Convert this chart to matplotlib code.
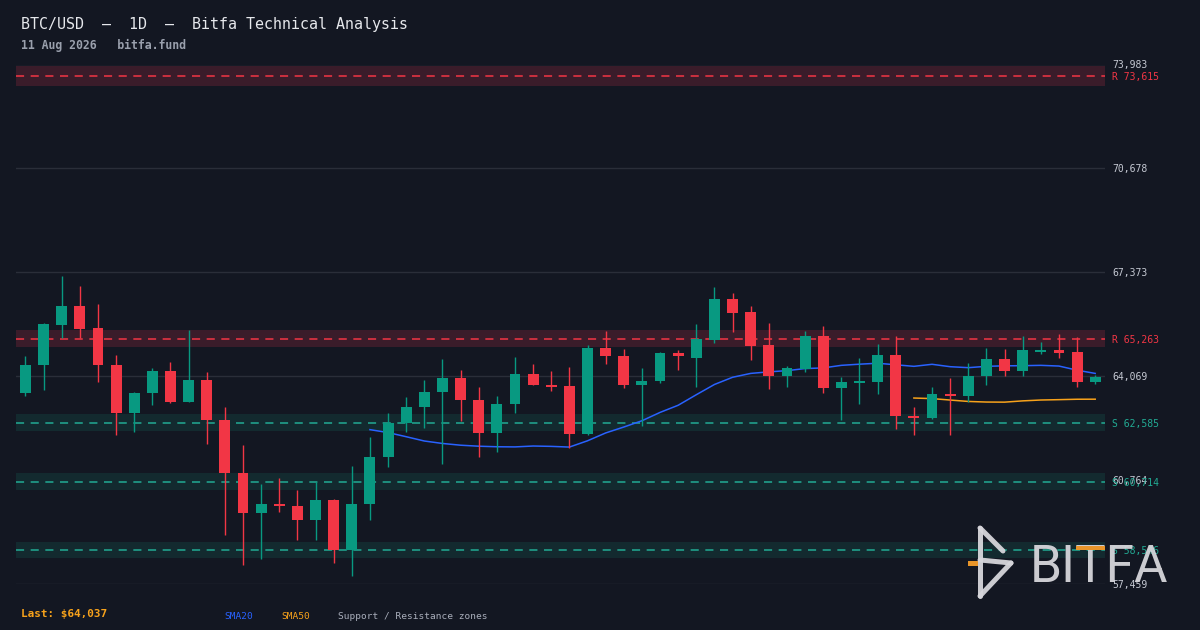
import numpy as np
import pandas as pd
import matplotlib
matplotlib.use('Agg')
import matplotlib.pyplot as plt
from matplotlib.patches import Rectangle
from matplotlib.lines import Line2D

# daily candles, oldest first
opens = [63522, 64412, 65706, 66309, 65610, 64434, 62887, 63522, 64244, 63236,
         63958, 62680, 60980, 59709, 60017, 59931, 59509, 60144, 58555, 60000,
         61511, 62569, 63100, 63576, 64021, 63300, 62251, 63195, 64148, 63799,
         63767, 62219, 64975, 64698, 63777, 63926, 64816, 64657, 65229, 66532,
         66119, 65070, 64085, 64307, 65356, 63704, 63862, 63894, 64752, 62814,
         62750, 63513, 63449, 64085, 64625, 64244, 64847, 64911, 64847, 63894]
highs = [64720, 65769, 67263, 66945, 66373, 64752, 63576, 64339, 64530, 65547,
         64212, 63100, 61892, 60653, 60843, 60462, 60694, 60176, 61225, 62146,
         62909, 63418, 63958, 64625, 64275, 63735, 63449, 64689, 64466, 64244,
         64371, 65070, 65515, 64943, 64339, 64847, 64911, 65737, 66913, 66723,
         66309, 65769, 64403, 65515, 65674, 64053, 64657, 65102, 65356, 63100,
         63735, 64021, 64498, 64975, 64943, 65356, 65165, 65420, 65324, 64117]
lows = [63427, 63618, 65283, 65283, 63872, 62188, 62283, 63141, 63205, 63236,
        61902, 59010, 58056, 58247, 59763, 58873, 58851, 58120, 57729, 59509,
        61171, 62283, 62410, 61266, 62633, 61488, 61647, 62887, 63777, 63586,
        61775, 62188, 64444, 63681, 62474, 63840, 64253, 63713, 65111, 65483,
        64593, 63672, 63735, 64212, 63545, 62687, 63195, 63513, 62401, 62210,
        62718, 62210, 63259, 63799, 64085, 64085, 64784, 64657, 63735, 63831]
closes = [64434, 65737, 66309, 65579, 64412, 62887, 63545, 64244, 63236, 63958,
          62664, 60980, 59709, 60017, 59931, 59509, 60144, 58555, 60017, 61511,
          62569, 63100, 63576, 64021, 63300, 62251, 63195, 64148, 63799, 63735,
          62219, 64975, 64698, 63777, 63926, 64816, 64698, 65261, 66532, 66087,
          65038, 64085, 64339, 65356, 63704, 63894, 63926, 64752, 62814, 62750,
          63513, 63449, 64085, 64625, 64244, 64911, 64911, 64816, 63894, 64037]

resistance = [73615, 65263]
support = [62585, 60714, 58546]
y_ticks = [57459, 60764, 64069, 67373, 70678, 73983]

title = 'BTC/USD  \u2013  1D  \u2013  Bitfa Technical Analysis'
subtitle = '11 Aug 2026   bitfa.fund'
last_price = 64037

BG = '#131722'
GREEN = '#089981'
RED = '#f23645'
TEAL = '#22ab94'
BLUE = '#2962ff'
ORANGE = '#f7a21b'
GRID = '#2a2e39'
TXT = '#c5c9d3'
MONO = ['DejaVu Sans Mono']
ZONE_PAD = 0.0043

W, H = 1200, 630
fig = plt.figure(figsize=(12, 6.3), dpi=100, facecolor=BG)
ax = fig.add_axes([16 / W, 1 - 584 / H, 1089 / W, (584 - 64.5) / H])
ax.set_facecolor(BG)
for s in ax.spines.values():
    s.set_visible(False)
ax.set_xticks([])
ax.set_yticks([])

n = len(closes)
x = np.arange(n)
ax.set_xlim(-0.52, n - 0.46)
ax.set_ylim(y_ticks[0], y_ticks[-1])

# grid + right labels
for v in y_ticks:
    ax.axhline(v, color=GRID, lw=1, zorder=0)
    ax.text(1.0064, v, f'{v:,}', transform=ax.get_yaxis_transform(),
            color=TXT, fontsize=7, family=MONO, va='center_baseline', ha='left')

# support / resistance zones
for lvl, col, fill, tag in ([(r, RED, '#3a1c2a', 'R') for r in resistance] +
                            [(s, TEAL, '#132a2f', 'S') for s in support]):
    ax.axhspan(lvl * (1 - ZONE_PAD), lvl * (1 + ZONE_PAD), color=fill, lw=0, zorder=1)
    ax.axhline(lvl, color=col, lw=1.1, ls=(0, (5.3, 4.3)), zorder=2)
    ax.text(1.0064, lvl, f'{tag} {lvl:,}', transform=ax.get_yaxis_transform(),
            color=col, fontsize=7, family=MONO, va='center_baseline', ha='left')

# moving averages
cl = pd.Series(closes, dtype=float)
sma20 = cl.rolling(20).mean()
sma50 = cl.rolling(50).mean()
ax.plot(x, sma20, color=BLUE, lw=1.1, zorder=3)
ax.plot(x, sma50, color=ORANGE, lw=1.1, zorder=3)

# candles
o = np.array(opens, float)
c = np.array(closes, float)
up = c >= o
cols = np.where(up, GREEN, RED)
ax.vlines(x, lows, highs, colors=cols, lw=1, zorder=4)
body_lo = np.minimum(o, c)
body_h = np.maximum(np.abs(c - o), 45)
ax.bar(x, body_h, bottom=body_lo, width=0.6, color=cols, lw=0, zorder=5)

# header
fig.text(21 / W, 1 - 29.3 / H, title, color='#e6e8ec', fontsize=10.8,
         family=MONO, va='baseline', ha='left')
fig.text(21 / W, 1 - 48.7 / H, subtitle, color='#9aa0ad', fontsize=8.3,
         family=MONO, weight='bold', va='baseline', ha='left')

# footer legend
fig.text(21 / W, 1 - 617.3 / H, f'Last: ${last_price:,}', color=ORANGE,
         fontsize=7.9, family=MONO, weight='bold', va='baseline', ha='left')
fig.text(224 / W, 1 - 619 / H, 'SMA20', color=BLUE, fontsize=6.8,
         family=MONO, va='baseline', ha='left')
fig.text(281 / W, 1 - 619 / H, 'SMA50', color=ORANGE, fontsize=6.8,
         family=MONO, va='baseline', ha='left')
fig.text(338 / W, 1 - 619 / H, 'Support / Resistance zones', color='#a9aebb',
         fontsize=6.8, family=MONO, va='baseline', ha='left')

# logo overlay, pixel coordinates
lg = fig.add_axes([0, 0, 1, 1], facecolor='none')
lg.set_xlim(0, W)
lg.set_ylim(H, 0)
lg.axis('off')
LOGO = '#d6d6db'
for xs, ys in [([980, 980], [528, 596]),
               ([980, 1003], [528, 551]),
               ([980, 1011], [560, 563]),
               ([1011, 980], [563, 596])]:
    lg.add_line(Line2D(xs, ys, color=LOGO, lw=3.6, solid_capstyle='round',
                       solid_joinstyle='round', alpha=0.95, zorder=2))
lg.text(1030, 582, 'BITFA', color=LOGO, fontsize=37, family='Roboto',
        va='baseline', ha='left', alpha=0.95, zorder=2)
lg.add_patch(Rectangle((1076, 545.5), 29, 4.5, color='#e8952a', lw=0, zorder=3))
lg.add_patch(Rectangle((968, 561), 10, 5, color='#e8952a', lw=0, zorder=1))

fig.savefig('out.png', dpi=100, facecolor=BG)
